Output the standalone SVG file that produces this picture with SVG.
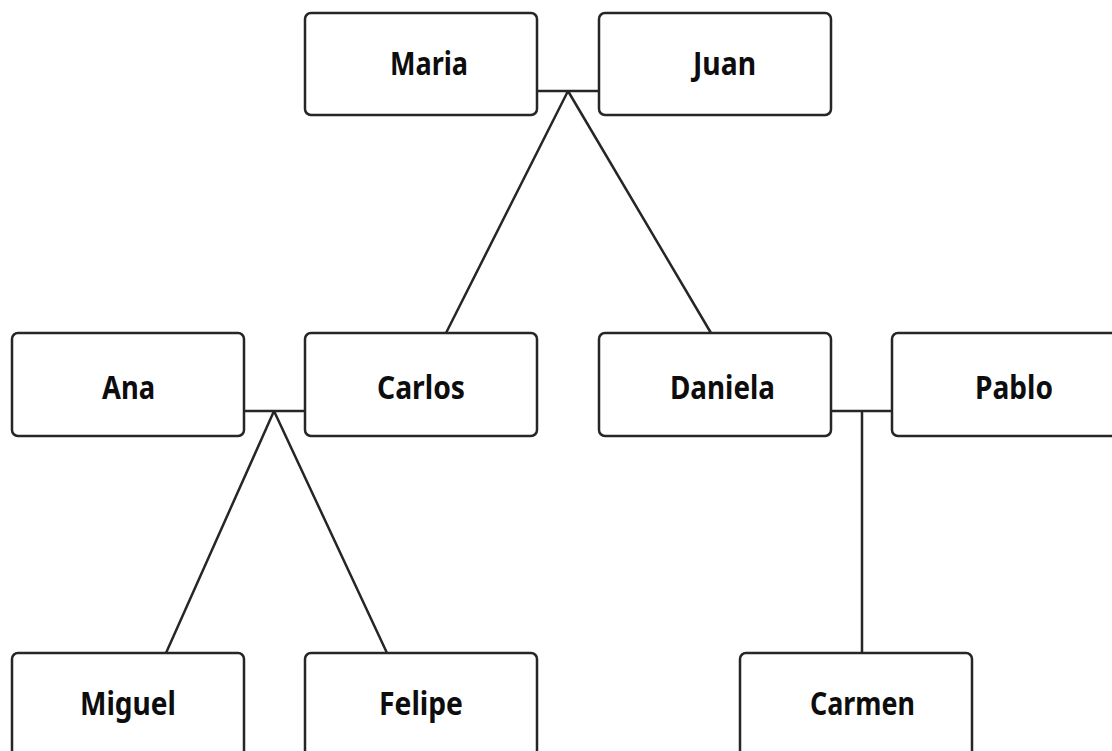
<svg xmlns="http://www.w3.org/2000/svg" width="1112" height="751" viewBox="0 0 1112 751">
<style>
.box{fill:#fff;stroke:#262626;stroke-width:2.5}
.lbl{font-family:"Noto Sans","DejaVu Sans",sans-serif;font-weight:bold;font-size:32px;fill:#0d0d0d;text-anchor:middle}
.ln{stroke:#262626;stroke-width:2.5;fill:none}
</style>
<rect width="1112" height="751" fill="#fff"/>
<g id="connectors">
<path class="ln" d="M537 91H599M568 91L446 333M568 91L711 333"/>
<path class="ln" d="M244 411H305M274 411L166 653M274 411L387 653"/>
<path class="ln" d="M831 411H892M862 411V653"/>
</g>
<g id="maria"><rect class="box" x="305" y="13" width="232" height="102" rx="6"/><text class="lbl" x="429" y="74.5" textLength="78" lengthAdjust="spacingAndGlyphs">Maria</text></g>
<g id="juan"><rect class="box" x="599" y="13" width="232" height="102" rx="6"/><text class="lbl" x="724.5" y="74.5" textLength="63" lengthAdjust="spacingAndGlyphs">Juan</text></g>
<g id="ana"><rect class="box" x="12" y="333" width="232" height="103" rx="6"/><text class="lbl" x="128.5" y="399" textLength="53" lengthAdjust="spacingAndGlyphs">Ana</text></g>
<g id="carlos"><rect class="box" x="305" y="333" width="232" height="103" rx="6"/><text class="lbl" x="421" y="399" textLength="88" lengthAdjust="spacingAndGlyphs">Carlos</text></g>
<g id="daniela"><rect class="box" x="599" y="333" width="232" height="103" rx="6"/><text class="lbl" x="722.5" y="399" textLength="105" lengthAdjust="spacingAndGlyphs">Daniela</text></g>
<g id="pablo"><rect class="box" x="892" y="333" width="232" height="103" rx="6"/><text class="lbl" x="1014" y="399" textLength="78" lengthAdjust="spacingAndGlyphs">Pablo</text></g>
<g id="miguel"><rect class="box" x="12" y="653" width="232" height="103" rx="6"/><text class="lbl" x="128" y="715" textLength="96" lengthAdjust="spacingAndGlyphs">Miguel</text></g>
<g id="felipe"><rect class="box" x="305" y="653" width="232" height="103" rx="6"/><text class="lbl" x="421" y="715" textLength="84" lengthAdjust="spacingAndGlyphs">Felipe</text></g>
<g id="carmen"><rect class="box" x="740" y="653" width="232" height="103" rx="6"/><text class="lbl" x="862.5" y="715" textLength="105" lengthAdjust="spacingAndGlyphs">Carmen</text></g>
</svg>
